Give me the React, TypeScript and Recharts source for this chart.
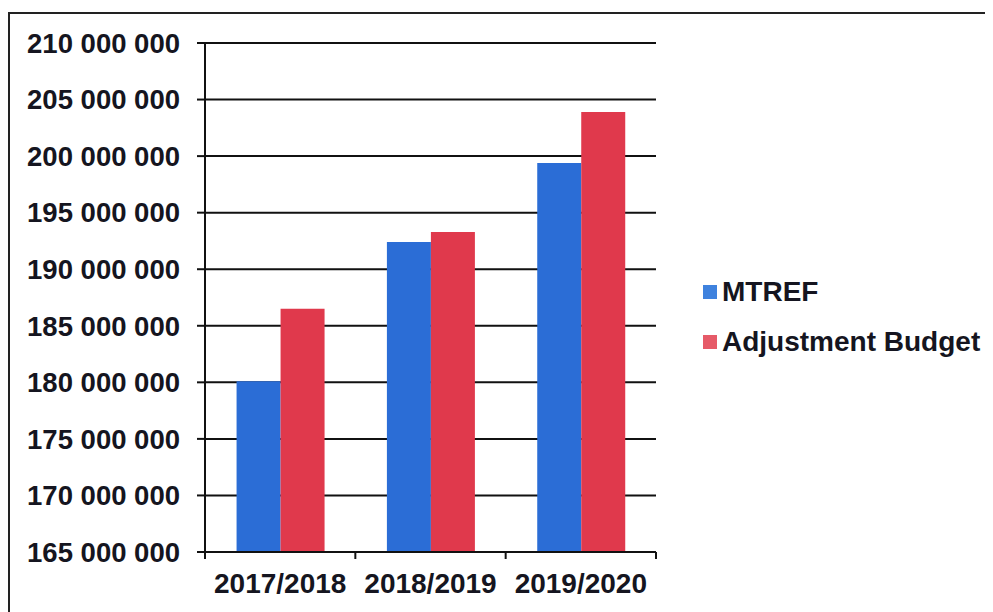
import { Bar, BarChart, CartesianGrid, Legend, XAxis, YAxis } from "recharts"

const categories = ["2017/2018", "2018/2019", "2019/2020"]
const mtref = [180100000, 192400000, 199400000]
const adjustmentBudget = [186500000, 193300000, 203900000]
const seriesNames = ["MTREF", "Adjustment Budget"]
const seriesColors = ["#2b6dd6", "#e0394c"]
const legendColors = ["#3f82de", "#e65a68"]
const yTicks = [165000000, 170000000, 175000000, 180000000, 185000000, 190000000, 195000000, 200000000, 205000000, 210000000]

const data = categories.map((year, i) => ({
  year,
  mtref: mtref[i],
  adjustment: adjustmentBudget[i],
}))

const font = "'Liberation Sans', Arial, sans-serif"
const textColor = "#151520"
const labelGap = 21

const formatMillions = (v: number) => String(v).replace(/\B(?=(\d{3})+(?!\d))/g, " ")

// category label plus the boundary tick marks Excel draws between groups
const YearTick = (props: any) => {
  const { x, y, payload, index, visibleTicksCount } = props
  const half = payload.offset ?? 0
  const axisY = y - labelGap
  return (
    <g>
      {index === 0 && <line x1={x - half} x2={x - half} y1={axisY} y2={axisY + 7} stroke="#111" strokeWidth={2} />}
      <line x1={x + half} x2={x + half} y1={axisY} y2={axisY + 7} stroke="#111" strokeWidth={2} />
      <text x={x} y={y} dy="0.71em" textAnchor="middle" fontFamily={font} fontWeight="bold" fontSize={28} fill={textColor}>
        {payload.value}
      </text>
    </g>
  )
}

const LegendBox = () => (
  <div style={{ fontFamily: font, fontWeight: "bold", fontSize: 28, color: textColor }}>
    {seriesNames.map((name, i) => (
      <div key={name} style={{ display: "flex", alignItems: "center", height: 50 }}>
        <span style={{ width: 14, height: 14, background: legendColors[i], marginRight: 5, display: "inline-block" }} />
        <span>{name}</span>
      </div>
    ))}
  </div>
)

const App = () => {
  return (
    <div style={{ marginTop: 4, width: 985, height: 600, borderLeft: "2px solid #222", borderTop: "2px solid #222", overflow: "hidden", boxSizing: "border-box" }}>
      <BarChart
        width={983}
        height={598}
        data={data}
        margin={{ top: 29, right: 337, bottom: 0, left: 0 }}
        barCategoryGap="21%"
        barGap={0}
      >
        <CartesianGrid vertical={false} stroke="#111" strokeWidth={2} />
        <XAxis
          dataKey="year"
          height={60}
          axisLine={{ stroke: "#111", strokeWidth: 2 }}
          tickLine={false}
          tickSize={0}
          tickMargin={labelGap}
          tick={<YearTick />}
        />
        <YAxis
          domain={[165000000, 210000000]}
          ticks={yTicks}
          width={195}
          tickSize={8}
          tickMargin={17}
          stroke="#111"
          strokeWidth={2}
          tickFormatter={formatMillions}
          tick={{ fontFamily: font, fontWeight: "bold", fontSize: 27.5, fill: textColor }}
        />
        <Legend
          layout="vertical"
          align="center"
          verticalAlign="middle"
          wrapperStyle={{ left: 693, top: 253, width: 290 }}
          content={() => <LegendBox />}
        />
        <Bar dataKey="mtref" name={seriesNames[0]} fill={seriesColors[0]} isAnimationActive={false} />
        <Bar dataKey="adjustment" name={seriesNames[1]} fill={seriesColors[1]} isAnimationActive={false} />
      </BarChart>
    </div>
  )
}

export default App
